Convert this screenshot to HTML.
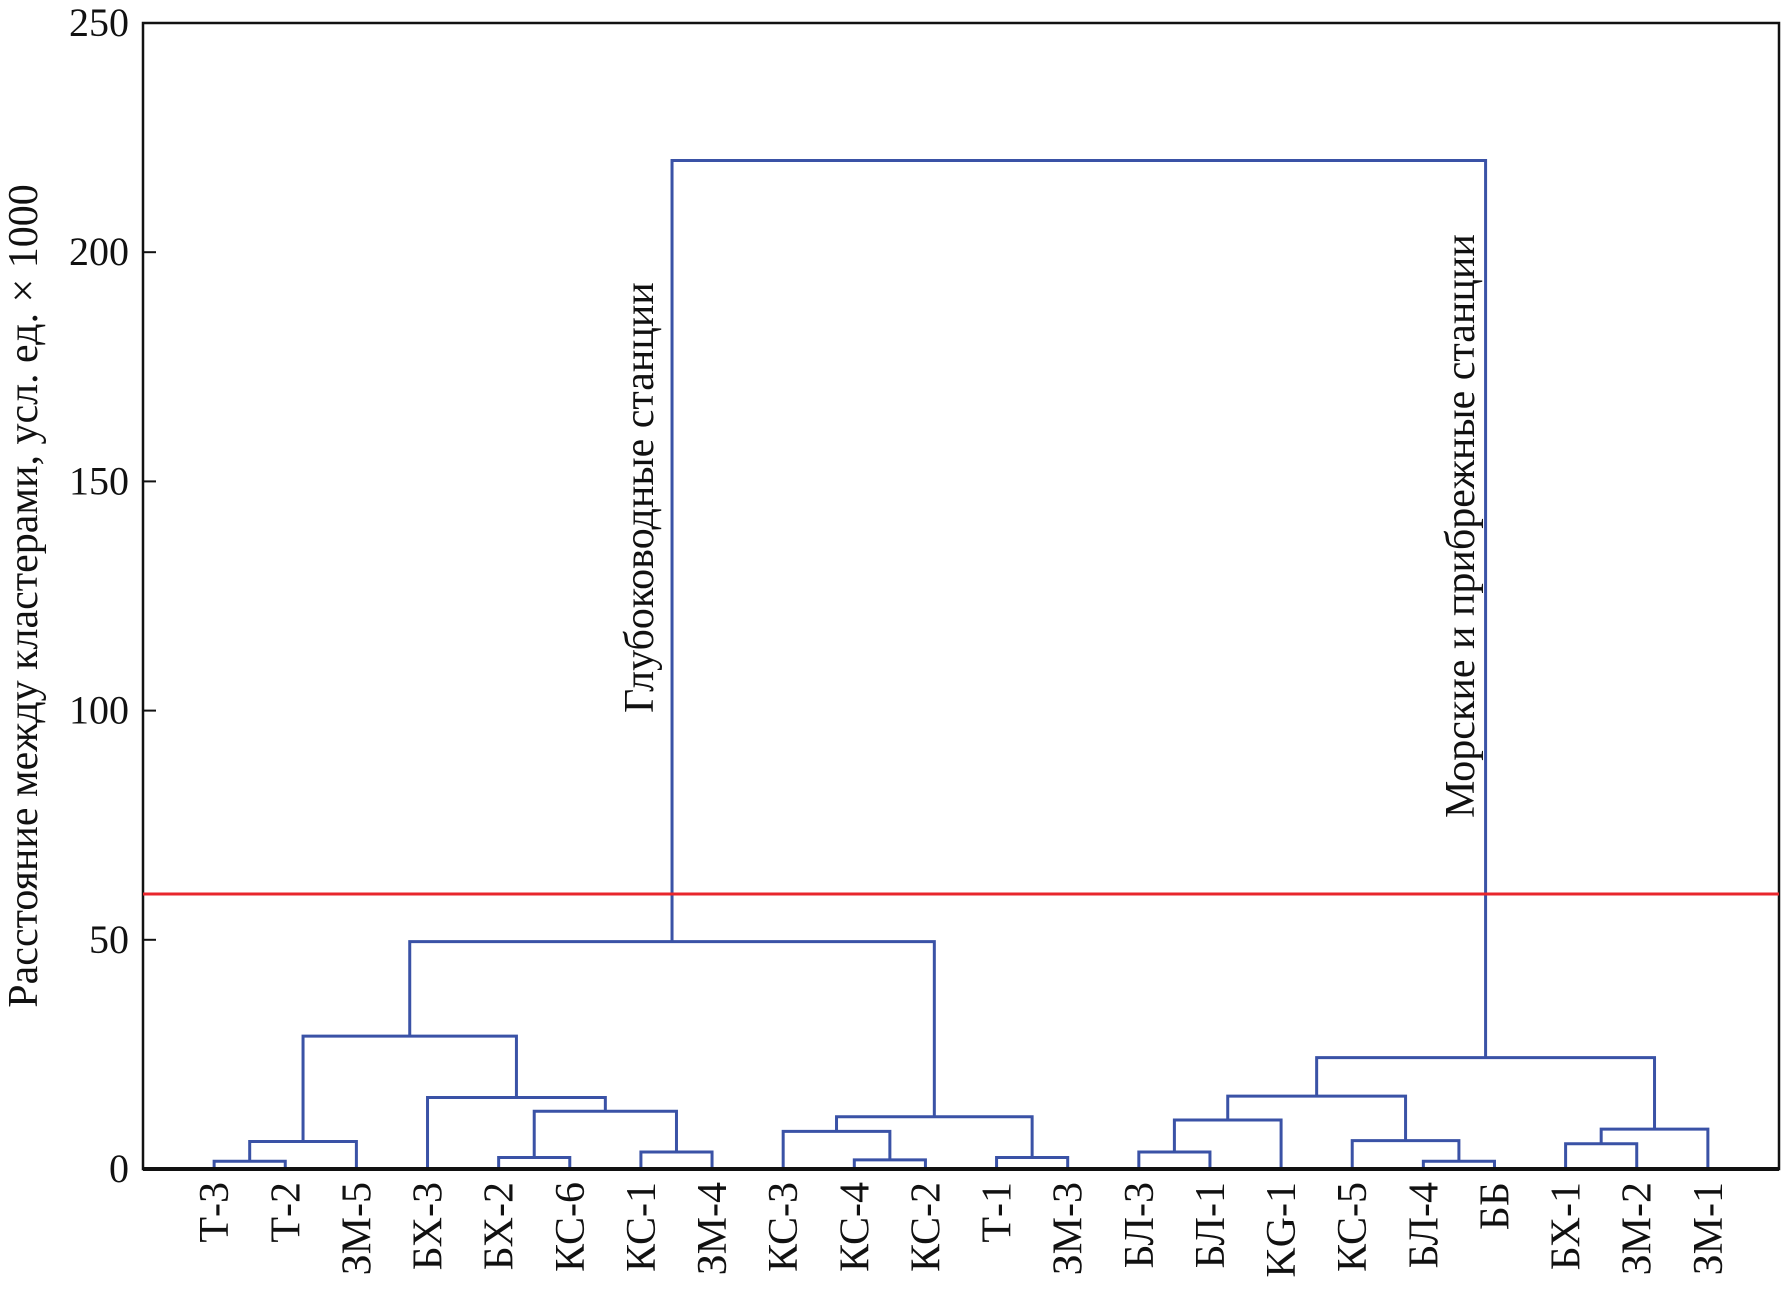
<!DOCTYPE html>
<html><head><meta charset="utf-8"><style>
html,body{margin:0;padding:0;background:#fff;}
svg{display:block;}
text{font-family:"Liberation Serif","DejaVu Serif",serif;fill:#111;}
</style></head><body>
<svg id="chart" width="1781" height="1298" viewBox="0 0 1781 1298" xmlns="http://www.w3.org/2000/svg">
<g id="links"></g>
<g id="axes"></g>
</svg>
<script>
const leafLabels = ["Т-3","Т-2","ЗМ-5","БХ-3","БХ-2","КС-6","КС-1","ЗМ-4","КС-3","КС-4","КС-2","Т-1","ЗМ-3","БЛ-3","БЛ-1","KG-1","КС-5","БЛ-4","ББ","БХ-1","ЗМ-2","ЗМ-1"];
const mergeLeft  = [0,22,4,6,24,3,23,9,8,11,30,28,13,34,17,16,35,19,39,38,33];
const mergeRight = [1,2,5,7,25,26,27,10,29,12,31,32,14,15,18,36,37,20,21,40,41];
const mergeHeights = [1.7,6,2.5,3.7,12.6,15.6,29,2,8.2,2.5,11.4,49.6,3.7,10.7,1.7,6.2,15.9,5.5,8.7,24.3,220];
const yTicks = [0,50,100,150,200,250];
const cutHeight = 60;

const PL=143,PR=1779,PT=23,PB=1169;
const xs = i => PL + (i+1)*(PR-PL)/23;
const ys = v => PB - v/250*(PB-PT);
const NS="http://www.w3.org/2000/svg";
const svgEl=document.getElementById('chart');
const linksG=document.getElementById('links');
const axesG=document.getElementById('axes');
function mk(tag,attrs,parent){const e=document.createElementNS(NS,tag);for(const k in attrs)e.setAttribute(k,attrs[k]);parent.appendChild(e);return e;}

const nx=[],nh=[];
leafLabels.forEach((l,i)=>{nx[i]=i;nh[i]=0;});
mergeHeights.forEach((h,k)=>{
  const a=mergeLeft[k],b=mergeRight[k],id=leafLabels.length+k;
  nx[id]=(nx[a]+nx[b])/2;nh[id]=h;
  const p=mk('path',{d:`M${xs(nx[a])},${ys(nh[a])}V${ys(h)}H${xs(nx[b])}V${ys(nh[b])}`,fill:'none',stroke:'#3a52a6','stroke-width':3},linksG);
  
  
});

const cl=mk('line',{x1:PL,x2:PR,y1:ys(cutHeight),y2:ys(cutHeight),stroke:'#e8262c','stroke-width':3},svgEl);



const fr=mk('path',{d:`M${PL},${PT}H${PR}V${PB}H${PL}Z`,fill:'none',stroke:'#111','stroke-width':2.5},axesG);


const xa=mk('line',{x1:PL,x2:PR,y1:PB,y2:PB,stroke:'#111','stroke-width':4},axesG);



yTicks.forEach(v=>{
  const t=mk('line',{x1:PL,x2:PL+13,y1:ys(v),y2:ys(v),stroke:'#111','stroke-width':2},axesG);
  
  
  const tx=mk('text',{x:PL-14,y:ys(v)+13,'text-anchor':'end','font-size':40},axesG);
  tx.textContent=v;
  
  
});
leafLabels.forEach((l,i)=>{
  const x=xs(i);
  const tx=mk('text',{x:0,y:0,'text-anchor':'end','font-size':42,transform:`translate(${x+14},1182) rotate(-90)`},axesG);
  tx.textContent=l;
  
  
});
const yt=mk('text',{x:0,y:0,'text-anchor':'middle','font-size':42,transform:'translate(37,596) rotate(-90)'},axesG);
yt.textContent='Расстояние между кластерами, усл. ед. × 1000';



const a1=mk('text',{x:0,y:0,'text-anchor':'start','font-size':42,transform:`translate(653,713) rotate(-90)`},svgEl);
a1.textContent='Глубоководные станции';


const a2=mk('text',{x:0,y:0,'text-anchor':'start','font-size':42,transform:`translate(1474,818) rotate(-90)`},svgEl);
a2.textContent='Морские и прибрежные станции';


</script>
</body></html>
